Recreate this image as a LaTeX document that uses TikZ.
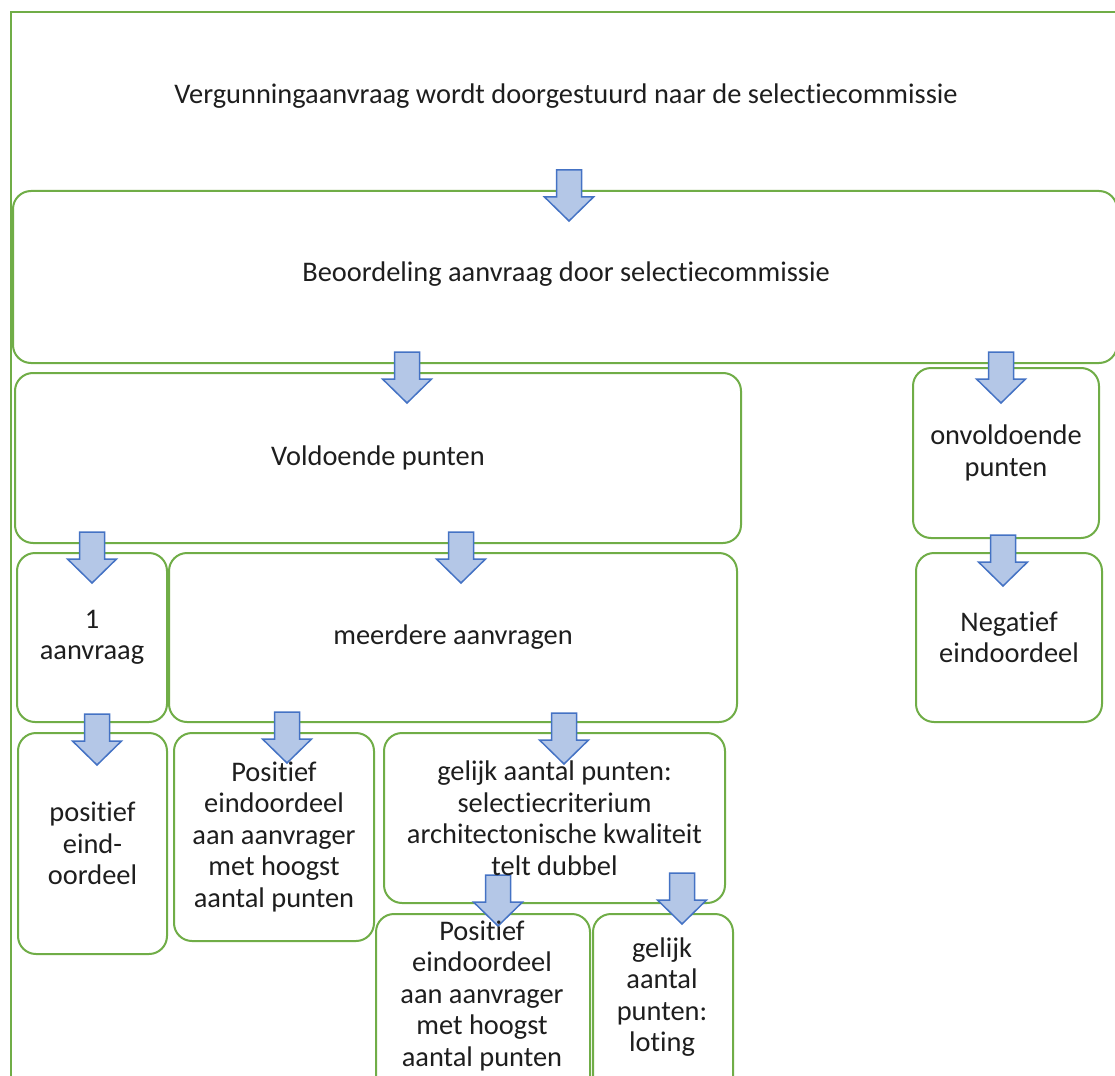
\documentclass[tikz,border=0pt]{standalone}
\usepackage{fontspec}
\setmainfont{Carlito}[Ligatures={NoCommon}]
\definecolor{boxgreen}{HTML}{70AD47}
\definecolor{arrowfill}{HTML}{B4C7E7}
\definecolor{arrowdraw}{HTML}{4472C4}
\definecolor{txt}{HTML}{1E1E1E}
\begin{document}
\begin{tikzpicture}[x=1pt,y=-1pt,
  frame/.style={draw=boxgreen, line width=2pt, anchor=north west, inner sep=0pt},
  rbox/.style={draw=boxgreen, line width=2pt, rounded corners=18pt, anchor=north west, inner sep=0pt},
  lbl/.style={align=center, font=\fontsize{28.4}{31.5}\selectfont, text=txt, inner sep=0pt},
  downarrow/.pic={\draw[fill=arrowfill, draw=arrowdraw, line width=1.5pt, line join=miter]
     (-12.5,0) -- (12.5,0) -- (12.5,27) -- (24.5,27) -- (0,51) -- (-24.5,27) -- (-12.5,27) -- cycle;}
]
\clip (0,0) rectangle (1115,1075);
\fill[white] (0,0) rectangle (1115,1075);
% boxes
\node[frame, minimum width=1130pt, minimum height=1090pt] (b0) at (10,11) {};
\node[rbox, minimum width=1104pt, minimum height=172pt] (b1) at (12,190) {};
\node[rbox, minimum width=726pt, minimum height=170pt] (b2) at (14,372) {};
\node[rbox, minimum width=186pt, minimum height=170pt] (b3) at (912,367) {};
\node[rbox, minimum width=150pt, minimum height=169pt] (b4) at (16,552) {};
\node[rbox, minimum width=568pt, minimum height=169pt] (b5) at (168,552) {};
\node[rbox, minimum width=186pt, minimum height=169pt] (b6) at (915,552) {};
\node[rbox, minimum width=149pt, minimum height=221pt] (b7) at (17,732) {};
\node[rbox, minimum width=200pt, minimum height=208pt] (b8) at (173,732) {};
\node[rbox, minimum width=341pt, minimum height=170pt] (b9) at (383,732) {};
\node[rbox, minimum width=214pt, minimum height=190pt] (b10) at (375,913) {};
\node[rbox, minimum width=140pt, minimum height=190pt] (b11) at (592,913) {};
% block arrows
\pic at (569,170) {downarrow};
\pic at (407,352) {downarrow};
\pic at (1001,352) {downarrow};
\pic at (92,532) {downarrow};
\pic at (461,532) {downarrow};
\pic at (1003,535) {downarrow};
\pic at (97,714) {downarrow};
\pic at (287,712) {downarrow};
\pic at (564,713) {downarrow};
\pic at (498,875) {downarrow};
\pic at (682,873) {downarrow};
% labels
\node[lbl] (t0) at (566,96) {Vergunningaanvraag wordt doorgestuurd naar de selectiecommissie};
\node[lbl] (t1) at (566,274) {Beoordeling aanvraag door selectiecommissie};
\node[lbl] (t2) at (b2.center) {Voldoende punten};
\node[lbl] (t3) at (b3.center) {onvoldoende\\punten};
\node[lbl] (t4) at (b4.center) {1\\aanvraag};
\node[lbl] (t5) at (b5.center) {meerdere aanvragen};
\node[lbl] (t6) at (b6.center) {Negatief\\eindoordeel};
\node[lbl] (t7) at (b7.center) {positief\\eind-\\oordeel};
\node[lbl] (t8) at (b8.center) {Positief\\eindoordeel\\aan aanvrager\\met hoogst\\aantal punten};
\node[lbl] (t9) at (b9.center) {gelijk aantal punten:\\selectiecriterium\\architectonische kwaliteit\\telt dubbel};
\node[lbl] (t10) at (482,996) {Positief\\eindoordeel\\aan aanvrager\\met hoogst\\aantal punten};
\node[lbl] (t11) at (662,997) {gelijk\\aantal\\punten:\\loting};
\end{tikzpicture}
\end{document}
